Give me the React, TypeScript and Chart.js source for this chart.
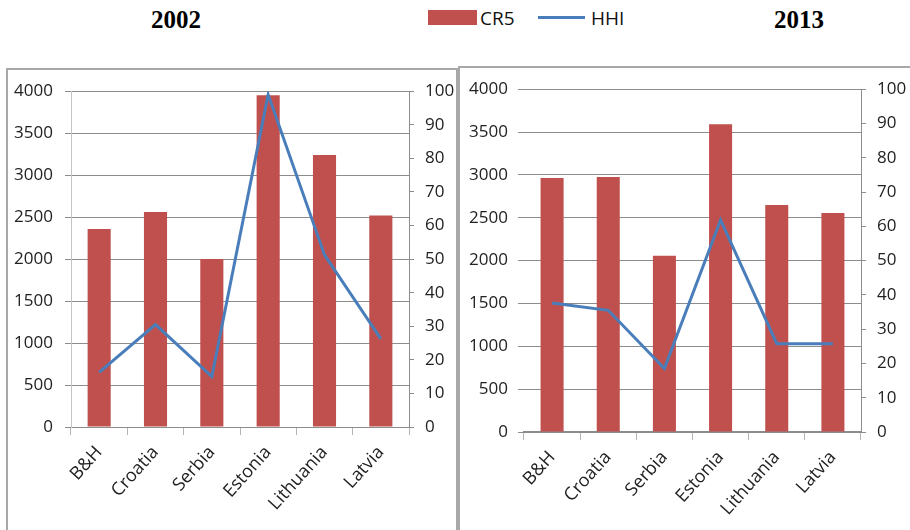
import React, { useEffect, useRef } from "react";
import { Chart, registerables } from "chart.js";

Chart.register(...registerables);

const categories = ["B&H", "Croatia", "Serbia", "Estonia", "Lithuania", "Latvia"];
const cr5_2002 = [59, 64, 50, 98.8, 81, 63];
const hhi_2002 = [650, 1220, 600, 3960, 2050, 1050];
const cr5_2013 = [74.1, 74.4, 51.4, 89.8, 66.2, 63.9];
const hhi_2013 = [1505, 1420, 740, 2475, 1030, 1030];
const panelTitles = ["2002", "2013"];
const seriesNames = ["CR5", "HHI"];

const RED = "#C0504D";
const BLUE = "#4A7EBB";
const FONT = "'Open Sans', 'Noto Sans', sans-serif";

type PanelProps = {
  cr5: number[];
  hhi: number[];
  left: number;
  top: number;
  width: number;
  height: number;
  leftW: number;
  rightW: number;
  xH: number;
  topPad: number;
  leftBorder: boolean;
  xBorderWidth: number;
  xBorderColor: string;
  leftPad: number;
};

function PanelChart(p: PanelProps) {
  const ref = useRef<HTMLCanvasElement | null>(null);
  useEffect(() => {
    if (!ref.current) return;
    const font = { family: FONT, size: 17 };
    const chart = new Chart(ref.current, {
      type: "bar",
      data: {
        labels: categories,
        datasets: [
          {
            type: "line",
            label: seriesNames[1],
            data: p.hhi,
            yAxisID: "y",
            borderColor: BLUE,
            backgroundColor: BLUE,
            borderWidth: 3,
            pointRadius: 0,
            tension: 0,
            fill: false,
            order: 0,
          } as any,
          {
            type: "bar",
            label: seriesNames[0],
            data: p.cr5,
            yAxisID: "y1",
            backgroundColor: RED,
            categoryPercentage: 1,
            barPercentage: 0.41,
            order: 1,
          } as any,
        ],
      },
      options: {
        responsive: false,
        animation: false,
        devicePixelRatio: 1,
        layout: { padding: { top: p.topPad, left: 0, right: 0, bottom: 0 } },
        plugins: { legend: { display: false }, tooltip: { enabled: false } },
        scales: {
          x: {
            offset: true,
            grid: { offset: true, drawOnChartArea: false, tickLength: 8, color: "#b4b4b4" },
            border: { display: true, color: p.xBorderColor, width: p.xBorderWidth },
            ticks: {
              minRotation: 48,
              maxRotation: 48,
              autoSkip: false,
              color: "#222",
              font: { family: FONT, size: 18 },
              padding: 7,
            },
            afterFit: (s: any) => {
              s.height = p.xH;
            },
          },
          y: {
            position: "left",
            min: 0,
            max: 4000,
            ticks: {
              stepSize: 500,
              color: "#222",
              font,
              padding: p.leftPad,
              callback: (v: any) => String(v),
            },
            grid: { color: "#8c8c8c", tickLength: 6 },
            border: { display: p.leftBorder, color: "#c4c4c4" },
            afterFit: (s: any) => {
              s.width = p.leftW;
            },
          },
          y1: {
            position: "right",
            min: 0,
            max: 100,
            ticks: { stepSize: 10, color: "#222", font, padding: 11, callback: (v: any) => String(v) },
            grid: { drawOnChartArea: false, tickLength: 5, color: "#8c8c8c" },
            border: { display: true, color: "#8c8c8c" },
            afterFit: (s: any) => {
              s.width = p.rightW;
            },
          },
        },
      } as any,
    });
    return () => chart.destroy();
  }, []);
  return (
    <canvas
      ref={ref}
      width={p.width}
      height={p.height}
      style={{ position: "absolute", left: p.left, top: p.top, width: p.width, height: p.height }}
    />
  );
}

export default function App() {
  const titleStyle: React.CSSProperties = {
    position: "absolute",
    top: 7,
    fontFamily: "'Liberation Serif', 'Times New Roman', serif",
    fontWeight: "bold",
    fontSize: 25,
    lineHeight: "25px",
    width: 120,
    textAlign: "center",
    color: "#000",
  };
  const legendText: React.CSSProperties = {
    position: "absolute",
    top: 7,
    fontFamily: FONT,
    fontSize: 19,
    lineHeight: "22px",
    color: "#111",
  };
  return (
    <div
      style={{
        position: "fixed",
        left: 0,
        top: 0,
        width: 910,
        height: 530,
        background: "#fff",
        overflow: "hidden",
      }}
    >
      <div style={{ ...titleStyle, left: 176 - 60 }}>{panelTitles[0]}</div>
      <div style={{ ...titleStyle, left: 799 - 60 }}>{panelTitles[1]}</div>

      <div style={{ position: "absolute", left: 428, top: 10, width: 49, height: 15, background: RED }} />
      <div style={{ ...legendText, left: 480 }}>{seriesNames[0]}</div>
      <div style={{ position: "absolute", left: 538, top: 16, width: 47, height: 3, background: BLUE }} />
      <div style={{ ...legendText, left: 591 }}>{seriesNames[1]}</div>

      <div
        style={{
          position: "absolute",
          left: 6,
          top: 68,
          width: 448,
          height: 480,
          border: "2px solid #a8a8a8",
        }}
      />
      <div
        style={{
          position: "absolute",
          left: 458,
          top: 66,
          width: 480,
          height: 480,
          border: "2px solid #a8a8a8",
        }}
      />

      <PanelChart
        cr5={cr5_2002}
        hhi={hhi_2002}
        left={8}
        top={69}
        width={448}
        height={461}
        leftW={63}
        rightW={47}
        xH={103}
        topPad={12}
        leftBorder={true}
        xBorderWidth={1}
        xBorderColor="#8c8c8c"
        leftPad={12}
      />
      <PanelChart
        cr5={cr5_2013}
        hhi={hhi_2013}
        left={460}
        top={68}
        width={450}
        height={462}
        leftW={64}
        rightW={49}
        xH={98}
        topPad={12}
        leftBorder={false}
        xBorderWidth={2}
        xBorderColor="#8c8c8c"
        leftPad={10}
      />
    </div>
  );
}
